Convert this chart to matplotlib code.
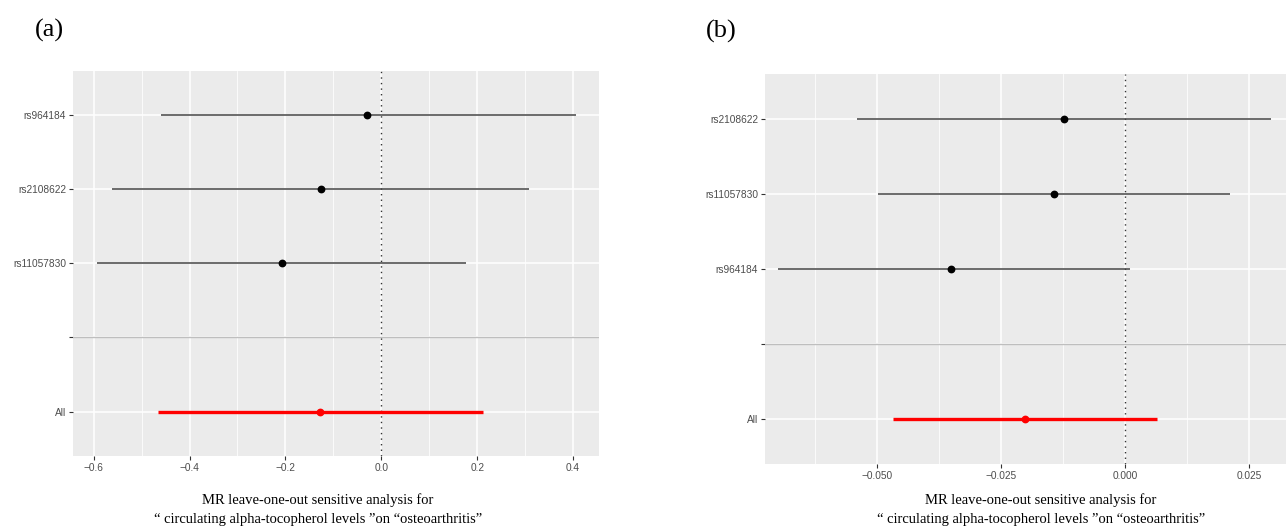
import matplotlib
matplotlib.use("Agg")
import matplotlib.pyplot as plt
from matplotlib.ticker import MultipleLocator, FixedLocator

# ---- data: panel (a) ----
snps_a = ["rs964184", "rs2108622", "rs11057830"]   # top to bottom
b_a = [-0.029, -0.126, -0.208]
lo_a = [-0.460, -0.561, -0.593]
hi_a = [0.405, 0.309, 0.177]
all_a = -0.127
all_lo_a = -0.466
all_hi_a = 0.212
xticks_a = [-0.6, -0.4, -0.2, 0.0, 0.2, 0.4]
xticklabels_a = ["\u22120.6", "\u22120.4", "\u22120.2", "0.0", "0.2", "0.4"]
minor_a = [-0.5, -0.3, -0.1, 0.1, 0.3]

# ---- data: panel (b) ----
snps_b = ["rs2108622", "rs11057830", "rs964184"]
b_b = [-0.0124, -0.0144, -0.0352]
lo_b = [-0.0541, -0.0499, -0.0699]
hi_b = [0.0294, 0.0212, 0.0009]
all_b = -0.0202
all_lo_b = -0.0468
all_hi_b = 0.0065
xticks_b = [-0.050, -0.025, 0.000, 0.025]
xticklabels_b = ["\u22120.050", "\u22120.025", "0.000", "0.025"]
minor_b = [-0.0625, -0.0375, -0.0125, 0.0125]

caption = ["MR leave-one-out sensitive analysis for",
           "\u201c circulating alpha-tocopherol levels \u201don \u201costeoarthritis\u201d"]

W, H = 1286, 527
fig = plt.figure(figsize=(W / 100, H / 100), dpi=100)

def px_axes(left, top, right, bottom):
    return fig.add_axes([left / W, 1 - bottom / H, (right - left) / W, (bottom - top) / H])

def draw_panel(ax, snps, b, lo, hi, ab, alo, ahi, xt, xtl, mn, xlim):
    ax.set_facecolor("#EBEBEB")
    for s in ax.spines.values():
        s.set_visible(False)
    n = len(snps)
    ypos = list(range(n + 2, 2, -1))  # top to bottom: 5,4,3
    # grid
    ax.set_xticks(xt)
    ax.set_xticklabels(xtl)
    ax.xaxis.set_minor_locator(FixedLocator(mn))
    ylabels = ["All", ""] + list(reversed(snps))
    ax.set_yticks(list(range(1, n + 3)))
    ax.set_yticklabels(ylabels)
    ax.grid(which="major", color="white", linewidth=1.1, zorder=0)
    ax.grid(which="minor", axis="x", color="white", linewidth=0.55, zorder=0)
    ax.set_axisbelow(True)
    ax.tick_params(axis="both", which="major", length=3, width=0.8, color="#333333",
                   labelsize=7.3, labelcolor="#4D4D4D", pad=2)
    ax.tick_params(axis="both", which="minor", length=0)
    for lab in ax.get_xticklabels() + ax.get_yticklabels():
        lab.set_family(["Liberation Sans", "DejaVu Sans"])
    # separator
    ax.axhline(2, color="#BEBEBE", linewidth=1.0, zorder=1)
    # zero line
    ax.axvline(0, color="#333333", linewidth=1.0, linestyle=(0, (1, 3)), zorder=2)
    # SNP rows
    for y, bi, l, h in zip(ypos, b, lo, hi):
        ax.plot([l, h], [y, y], color="#444444", linewidth=1.1, zorder=3, solid_capstyle="butt")
        ax.plot([bi], [y], "o", color="black", markersize=4.6, zorder=4)
    ax.plot([alo, ahi], [1, 1], color="#FF0000", linewidth=2.4, zorder=3, solid_capstyle="butt")
    ax.plot([ab], [1], "o", color="#FF0000", markersize=4.6, zorder=4)
    ax.set_xlim(*xlim)
    ax.set_ylim(0.4, n + 2 + 0.6)

ax_a = px_axes(73, 70.5, 599, 456)
draw_panel(ax_a, snps_a, b_a, lo_a, hi_a, all_a, all_lo_a, all_hi_a,
           xticks_a, xticklabels_a, minor_a, (-0.643, 0.454))

ax_b = px_axes(765, 74, 1286, 464)
draw_panel(ax_b, snps_b, b_b, lo_b, hi_b, all_b, all_lo_b, all_hi_b,
           xticks_b, xticklabels_b, minor_b, (-0.0726, 0.0324))

serif = ["Liberation Serif", "DejaVu Serif"]
fig.text(35 / W, 1 - 30 / H, "(a)", fontsize=19, family=serif, ha="left", va="center")
fig.text(706 / W, 1 - 31 / H, "(b)", fontsize=19, family=serif, ha="left", va="center")

for cx in (318, 1041):
    fig.text(cx / W, 1 - 500 / H, caption[0], fontsize=10.5, family=serif, ha="center", va="center")
    fig.text(cx / W, 1 - 519 / H, caption[1], fontsize=10.5, family=serif, ha="center", va="center")

fig.savefig("out.png", dpi=100)
